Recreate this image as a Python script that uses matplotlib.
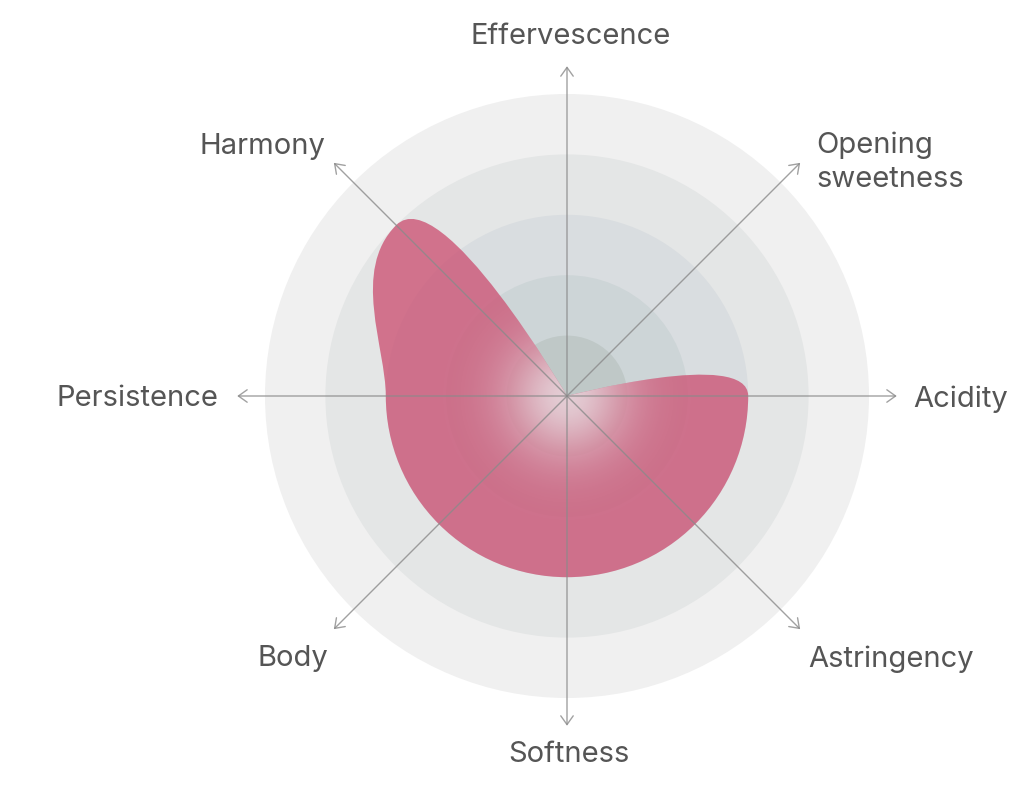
import numpy as np
import matplotlib
matplotlib.use('Agg')
import matplotlib.pyplot as plt
from matplotlib.path import Path
from matplotlib.patches import PathPatch, Circle, FancyArrowPatch

plt.rcParams['font.family'] = ['Inter', 'DejaVu Sans']

# data
labels = ['Acidity', 'Opening\nsweetness', 'Effervescence', 'Harmony',
          'Persistence', 'Body', 'Softness', 'Astringency']
angles_deg = [0, 45, 90, 135, 180, 225, 270, 315]
values = [3, 0, 0, 4, 3, 3, 3, 3]
ring_levels = [5, 4, 3, 2, 1]
ring_colors = ['#f0f0f0', '#e4e6e6', '#d9dde0', '#cdd5d7', '#bfc8c7']

W, H = 1024, 789
cx, cy = 567, 396      # centre in pixels
U = 60.4               # pixels per unit

fig = plt.figure(figsize=(W / 100, H / 100), dpi=100)
ax = fig.add_axes([0, 0, 1, 1])
ax.set_xlim(-cx / U, (W - cx) / U)
ax.set_ylim(-(H - cy) / U, cy / U)
ax.axis('off')

def px(x, y):
    return (x - cx) / U, (cy - y) / U

# background rings
for lev, col in zip(ring_levels, ring_colors):
    ax.add_patch(Circle((0, 0), lev, facecolor=col, edgecolor='none', zorder=1))

# shape: bezier through the points, handles perpendicular to the radius
th = np.radians(angles_deg)
vals = np.array(values, dtype=float)
pts = np.c_[vals * np.cos(th), vals * np.sin(th)]
tang = np.c_[-np.sin(th), np.cos(th)]
k = 4 / 3 * np.tan(np.pi / 16)
n = len(vals)
verts = [pts[0]]
codes = [Path.MOVETO]
for i in range(n):
    j = (i + 1) % n
    verts += [pts[i] + k * vals[i] * tang[i], pts[j] - k * vals[j] * tang[j], pts[j]]
    codes += [Path.CURVE4] * 3
verts.append(pts[0])
codes.append(Path.CLOSEPOLY)
shape = PathPatch(Path(verts, codes), facecolor='#cc5273', edgecolor='none',
                  alpha=0.78, zorder=2)
ax.add_patch(shape)

# soft light glow in the middle, clipped to the shape
g = np.linspace(-2.5, 2.5, 400)
gx, gy = np.meshgrid(g, g)
rr = np.hypot(gx, gy)
img = np.zeros((400, 400, 4))
img[..., 0] = 0.92
img[..., 1] = 0.90
img[..., 2] = 0.91
img[..., 3] = 0.8 * np.exp(-(rr / 1.0) ** 2)
im = ax.imshow(img, extent=(-2.5, 2.5, -2.5, 2.5), origin='lower', zorder=3,
               interpolation='bilinear')
im.set_clip_path(shape)

# axes with arrows
for t in th:
    end = (5.46 * np.cos(t), 5.46 * np.sin(t))
    arr = FancyArrowPatch((0, 0), end, arrowstyle='->,head_length=0.45,head_width=0.32',
                          mutation_scale=14, color='#8a8a8a', lw=1.0, alpha=0.8,
                          shrinkA=0, shrinkB=0, zorder=4)
    ax.add_patch(arr)

# labels (pixel positions, alignment)
label_pos = [(913, 399, 'left'), (816, 162, 'left'), (571, 37, 'center'),
             (325, 147, 'right'), (218, 399, 'right'), (328, 659, 'right'),
             (569, 755, 'center'), (808, 659, 'left')]
for lab, (x, y, ha) in zip(labels, label_pos):
    ax.text(*px(x, y), lab, ha=ha, va='center', fontsize=21, color='#555555',
            linespacing=1.32, zorder=5)

fig.savefig('out.png', dpi=100)
